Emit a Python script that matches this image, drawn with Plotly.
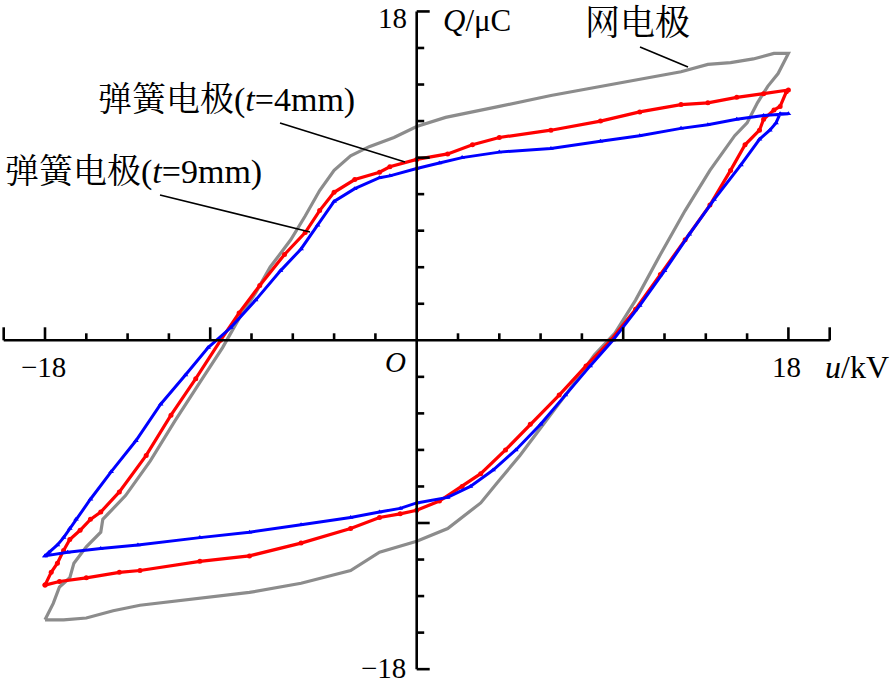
import plotly.graph_objects as go

# ---------------- data (u in kV, Q in uC) ----------------
grid_u = [-18.0, -17.1, -16.0, -14.7, -13.4, -10.5, -8.1, -5.6, -3.2, -1.8, 0.0, 1.5, 3.1, 3.9,
          5.0, 6.2, 7.4, 8.6, 9.6, 10.6, 11.8, 13.0, 14.2, 15.4, 16.0, 16.5, 17.0, 17.5, 17.8, 18.0,
          17.3, 16.3, 15.2, 14.1, 12.8, 10.8, 8.9, 6.5, 4.0, 1.4, 0.0, -1.1, -2.3, -3.2, -4.0, -4.7,
          -5.4, -6.1, -7.1, -7.8, -8.6, -9.4, -10.5, -11.7, -12.9, -14.1, -15.2, -15.3, -16.0, -16.6,
          -16.8, -17.3, -17.6, -18.0]
grid_q = [-15.3, -15.3, -15.2, -14.8, -14.5, -14.1, -13.8, -13.3, -12.6, -11.6, -11.0, -10.3, -8.9, -7.8,
          -6.3, -4.5, -2.7, -0.8, 0.4, 2.2, 4.7, 7.1, 9.3, 11.2, 11.9, 13.0, 13.9, 14.6, 15.3, 15.7,
          15.7, 15.4, 15.2, 15.1, 14.7, 14.3, 13.9, 13.4, 12.8, 12.2, 11.7, 11.1, 10.6, 10.1, 9.3, 8.2,
          6.8, 5.5, 4.0, 2.6, 1.2, -0.4, -2.3, -4.4, -6.6, -8.5, -9.8, -10.5, -11.3, -12.2,
          -13.0, -13.5, -14.4, -15.3]

spring4_u = [-18.0, -17.3, -16.0, -14.4, -13.4, -10.5, -8.1, -5.6, -3.2, -1.8, -0.8, 0.0, 1.1, 2.2, 3.1,
             4.3, 5.5, 6.9, 8.2, 9.4, 10.6, 11.8, 13.0, 14.2, 15.2, 15.9, 16.6, 16.8, 17.3, 17.6, 17.9, 18.0,
             16.8, 15.5, 14.1, 12.8, 10.8, 8.9, 6.5, 4.0, 2.7, 1.5, 0.0, -1.3, -1.8, -3.0, -4.0, -4.7,
             -5.4, -6.4, -7.6, -8.6, -9.5, -10.7, -11.9, -13.1, -14.4, -15.3, -15.8, -16.3, -16.8, -17.1,
             -17.4, -17.7, -18.0]
spring4_q = [-13.4, -13.2, -13.0, -12.7, -12.6, -12.1, -11.8, -11.1, -10.3, -9.7, -9.5, -9.3, -8.8, -8.0, -7.3,
             -6.0, -4.6, -3.0, -1.4, 0.0, 1.7, 3.6, 5.5, 7.4, 9.3, 10.7, 11.5, 12.1, 12.6, 12.8, 13.6, 13.7,
             13.5, 13.3, 13.0, 12.9, 12.5, 12.0, 11.5, 11.1, 10.7, 10.2, 9.9, 9.5, 9.2, 8.8, 8.1, 7.1,
             5.9, 4.7, 3.0, 1.5, 0.0, -2.1, -4.1, -6.3, -8.3, -9.4, -9.8, -10.4, -10.9, -11.5,
             -12.2, -12.7, -13.4]

spring9_u = [-18.0, -16.9, -15.3, -13.5, -10.5, -8.1, -5.6, -3.2, -1.8, -0.8, 0.0, 1.5, 2.6, 3.7,
             4.8, 6.0, 7.2, 8.4, 9.5, 10.8, 12.0, 13.2, 14.4, 15.7, 16.6, 17.1, 17.4, 17.6, 18.0,
             16.8, 15.5, 14.1, 12.8, 10.8, 8.9, 6.5, 4.0, 2.2, 1.1, 0.0, -1.3, -1.8, -3.0, -4.0,
             -4.8, -5.6, -6.6, -7.8, -9.0, -10.1, -11.2, -12.4, -13.6, -14.8, -15.8, -16.5, -16.8,
             -17.1, -17.4, -17.8, -18.0]
spring9_q = [-11.8, -11.6, -11.4, -11.2, -10.8, -10.5, -10.1, -9.7, -9.4, -9.2, -8.9, -8.6, -8.0, -7.1,
             -6.0, -4.6, -3.0, -1.4, 0.0, 1.9, 3.8, 5.8, 7.7, 9.6, 11.0, 11.5, 11.9, 12.4, 12.4,
             12.3, 12.1, 11.8, 11.6, 11.2, 10.9, 10.5, 10.3, 10.0, 9.7, 9.4, 9.0, 8.9, 8.3, 7.6,
             6.3, 5.0, 3.8, 2.2, 0.7, -0.4, -1.9, -3.5, -5.5, -7.2, -8.7, -9.8, -10.3,
             -10.8, -11.2, -11.6, -11.8]

x_ticks = [-20, -18, -16, -14, -12, -10, -8, -6, -4, -2, 2, 4, 6, 8, 10, 12, 14, 16, 18, 20]
x_major = [-20, -18, -10, 10, 18, 20]
y_ticks = [-18, -16, -14, -12, -10, -8, -6, -4, -2, 2, 4, 6, 8, 10, 12, 14, 16, 18]
y_major = [-18, -10, 10, 18]

# ---------------- layout geometry ----------------
W, H = 891, 687
PX_U = 20.65   # px per kV
PX_Q = 18.27   # px per uC
X0, Y0 = 416.7, 340.3
xmin = -X0 / PX_U
xmax = xmin + W / PX_U
ymax = Y0 / PX_Q
ymin = ymax - H / PX_Q

SERIF = "Liberation Serif, Times New Roman, serif"
CJK = "Liberation Serif, Noto Serif CJK SC, Noto Sans CJK SC, serif"

fig = go.Figure()
fig.add_trace(go.Scatter(x=grid_u, y=grid_q, mode="lines",
                         line=dict(color="#8c8c8c", width=3.2), name="网电极"))
fig.add_trace(go.Scatter(x=spring4_u, y=spring4_q, mode="lines+markers",
                         line=dict(color="#ff0000", width=3.2),
                         marker=dict(symbol="circle", size=5, color="#ff0000"),
                         name="弹簧电极(t=4mm)"))
fig.add_trace(go.Scatter(x=spring9_u, y=spring9_q, mode="lines+markers",
                         line=dict(color="#0000ff", width=3.0),
                         marker=dict(symbol="triangle-up", size=5, color="#0000ff"),
                         name="弹簧电极(t=9mm)"))

shapes = []
axw = 2.6
shapes.append(dict(type="line", x0=-20, x1=20, y0=0, y1=0, line=dict(color="black", width=axw)))
shapes.append(dict(type="line", x0=0, x1=0, y0=-18, y1=18, line=dict(color="black", width=axw)))
for t in x_ticks:
    L = (13 if t in x_major else 7) / PX_Q
    shapes.append(dict(type="line", x0=t, x1=t, y0=0, y1=L, line=dict(color="black", width=axw)))
for t in y_ticks:
    L = (13 if t in y_major else 7.5) / PX_U
    shapes.append(dict(type="line", x0=0, x1=L, y0=t, y1=t, line=dict(color="black", width=axw)))

def P(px, py):
    # page-pixel position -> data coordinates
    return (px - X0) / PX_U, (Y0 - py) / PX_Q

# leader lines
for (a, b) in [((640, 47), (688, 67)), ((280, 123), (405, 162)), ((160, 195), (310, 232))]:
    xa, ya = P(*a)
    xb, yb = P(*b)
    shapes.append(dict(type="line", x0=xa, y0=ya, x1=xb, y1=yb, line=dict(color="black", width=1.6)))

ann = []
def label(px, py, text, size=29, fam=SERIF):
    x, y = P(px, py)
    ann.append(dict(x=x, y=y, text=text, showarrow=False, xanchor="center", yanchor="middle",
                    font=dict(family=fam, size=size, color="black")))

label(392, 18, "18")
label(383, 668, "\u221218")
label(43, 367, "\u221218")
label(786, 367, "18")
label(395, 362, "<i>O</i>")
label(477, 20, "<i>Q</i>/μC", size=31)
label(857, 367, "<i>u</i>/kV", size=32)
label(637, 23, "网电极", size=35, fam=CJK)
label(226, 100, "弹簧电极(<i>t</i>=4mm)", size=34, fam=CJK)
label(133, 172, "弹簧电极(<i>t</i>=9mm)", size=34, fam=CJK)

fig.update_layout(width=W, height=H, autosize=False, margin=dict(l=0, r=0, t=0, b=0),
                  paper_bgcolor="white", plot_bgcolor="white", showlegend=False,
                  xaxis=dict(visible=False, range=[xmin, xmax], fixedrange=True),
                  yaxis=dict(visible=False, range=[ymin, ymax], fixedrange=True),
                  shapes=shapes, annotations=ann)
fig.write_html("out.html", config={"displayModeBar": False},
               post_script="document.body.style.margin='0';document.body.style.overflow='hidden';")
